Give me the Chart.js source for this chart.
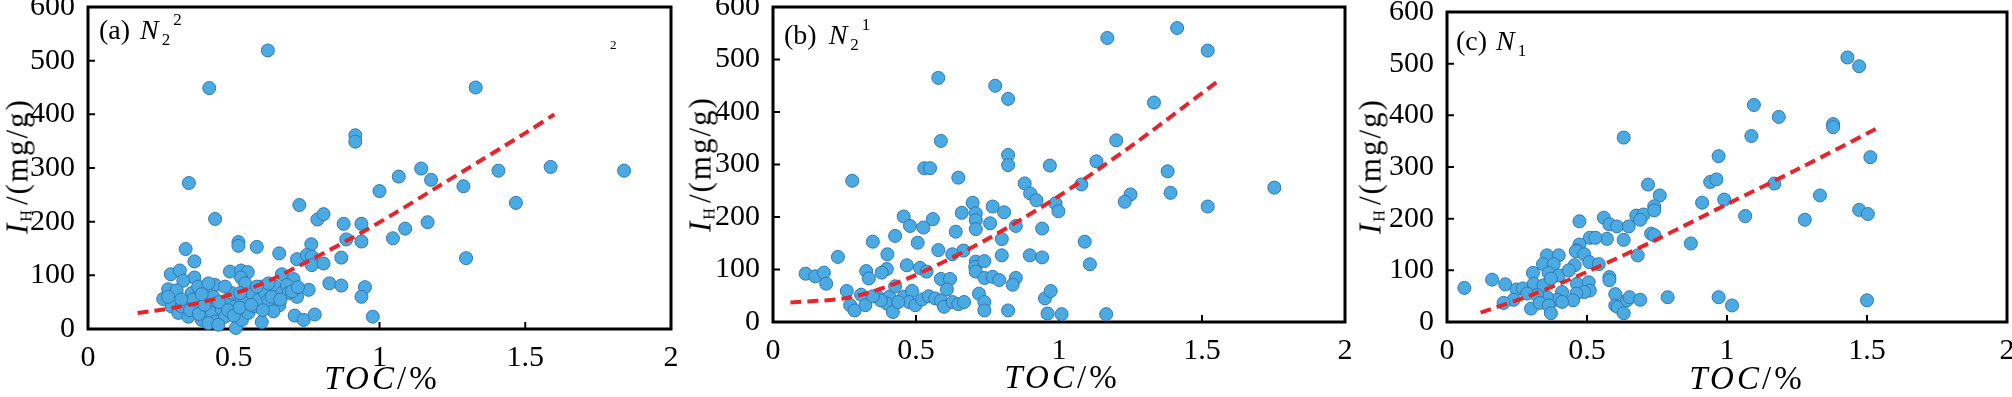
<!DOCTYPE html>
<html>
<head>
<meta charset="utf-8">
<script src="https://cdn.jsdelivr.net/npm/chart.js@4.4.0/dist/chart.umd.min.js"></script>
<style>
  body { margin: 0; background: #fff; }
  #fig { position: relative; width: 2012px; height: 397px; overflow: hidden;
         font-family: "Liberation Serif", "Times New Roman", serif; color: #000; }
  canvas { position: absolute; }
  .lab { position: absolute; font-size: 28px; line-height: 1; white-space: nowrap; }
  .lab i { font-size: 28px; }
  .sb, .sp { font-size: 17px; position: relative; }
  .ytitle { position: absolute; font-size: 31px; line-height: 1; white-space: nowrap;
            letter-spacing: 2px; transform: translate(-50%, -50%) rotate(-90deg); }
  .ytitle .h { font-size: 16px; position: relative; top: 4px; margin-right: 3px; }
  .xtitle { position: absolute; font-size: 33px; line-height: 1; white-space: nowrap;
            letter-spacing: 3px; transform: translateX(-50%); }
</style>
</head>
<body>
<div id="fig">
  <canvas id="cA"></canvas>
  <canvas id="cB"></canvas>
  <canvas id="cC"></canvas>

  <div class="lab" style="left:99px;top:16px">(a)<i style="margin-left:10px">N</i><span class="sb" style="top:6px;margin-left:3px">2</span><span class="sp" style="top:-14px;margin-left:3px">2</span></div>
  <div class="lab" style="left:610px;top:38px;font-size:13px">2</div>
  <div class="lab" style="left:784px;top:21px">(b)<i style="margin-left:12px">N</i><span class="sb" style="top:6px;margin-left:3px">2</span><span class="sp" style="top:-14px;margin-left:3px">1</span></div>
  <div class="lab" style="left:1456px;top:27px">(c)<i style="margin-left:9px">N</i><span class="sb" style="top:6px;margin-left:3px">1</span></div>

  <div class="ytitle" style="left:17px;top:166px"><i>I</i><span class="h">H</span>/(mg/g)</div>
  <div class="ytitle" style="left:700px;top:164px"><i>I</i><span class="h">H</span>/(mg/g)</div>
  <div class="ytitle" style="left:1370px;top:166px"><i>I</i><span class="h">H</span>/(mg/g)</div>

  <div class="xtitle" style="left:382px;top:362px"><i>TOC</i>/%</div>
  <div class="xtitle" style="left:1062px;top:361px"><i>TOC</i>/%</div>
  <div class="xtitle" style="left:1747px;top:362px"><i>TOC</i>/%</div>
</div>

<script>
// tick values shared by the three panels
const tocTicks = [0, 0.5, 1, 1.5, 2];
const ihTicks = [0, 100, 200, 300, 400, 500, 600];

// (a) N2^2 : [TOC %, IH mg/g]
const pointsA = [
  [0.617,519],[0.416,449],[1.33,450],[0.917,361],[0.917,349],[0.346,272],[1.0,257],[0.436,205],
  [0.725,231],[0.787,204],[0.808,214],[0.877,196],[0.938,196],[0.335,149],[0.516,162],[0.516,155],
  [0.579,153],[0.656,141],[0.766,158],[0.886,167],[0.938,163],[0.365,126],[0.717,130],[0.751,138],
  [0.768,135],[0.768,119],[0.808,122],[0.869,133],[0.284,102],[0.315,109],[0.365,96],[0.327,90],
  [0.487,107],[0.525,109],[0.548,106],[0.525,96],[0.665,102],[0.705,93],[0.828,85],[0.869,81],
  [0.95,78],[0.938,60],[0.977,23],[0.258,56],[0.275,74],[0.304,72],[0.436,82],[0.396,76],
  [0.757,73],[0.709,25],[0.74,17],[0.778,27],[0.596,13],[0.507,2],[0.656,44],[0.717,60],
  [1.066,284],[1.143,299],[1.177,278],[1.288,266],[1.408,295],[1.587,302],[1.839,295],[1.468,235],
  [1.165,199],[1.088,187],[1.046,169],[1.297,132],
  [0.287,42],[0.31,30],[0.344,48],[0.356,67],[0.378,60],[0.401,54],[0.413,42],[0.424,30],
  [0.436,14],[0.459,36],[0.47,23],[0.482,48],[0.493,67],[0.505,42],[0.528,54],[0.528,17],
  [0.55,30],[0.562,67],[0.573,42],[0.585,54],[0.596,79],[0.608,67],[0.619,54],[0.636,33],
  [0.642,79],[0.665,67],[0.682,82],[0.688,67],[0.344,23],[0.367,36],[0.39,17],[0.413,11],
  [0.447,8],[0.321,42],[0.275,60],[0.378,79],[0.413,85],[0.539,85],[0.47,79],[0.619,85],
  [0.522,67],[0.579,79],[0.35,35],[0.38,28],[0.4,45],[0.43,60],[0.45,50],[0.48,35],
  [0.5,25],[0.52,40],[0.56,45],[0.6,35],[0.63,60],[0.66,55],[0.7,70],[0.72,78],
  [0.36,55],[0.39,65],[0.32,55]
];
const fitA = [[0.17,30],[0.3,40],[0.45,58],[0.6,85],[0.75,125],[0.9,168],[1.05,215],[1.2,265],[1.35,315],[1.5,365],[1.6,400]];

// (b) N2^1
const pointsB = [
  [1.413,560],[1.169,541],[1.52,517],[0.578,465],[0.777,450],[0.822,425],[1.332,418],[0.587,345],
  [1.2,346],[0.822,318],[0.822,299],[0.968,298],[0.529,293],[0.549,293],[1.131,306],[1.38,287],
  [0.277,269],[0.648,275],[0.88,264],[1.078,262],[0.899,245],[0.921,232],[1.39,246],[1.25,243],
  [1.23,229],[1.52,220],[1.753,256],[0.698,227],[0.709,207],[0.709,194],[0.709,177],[0.768,220],
  [0.808,209],[0.759,188],[0.988,226],[0.998,211],[0.457,201],[0.479,183],[0.526,180],[0.559,196],
  [0.66,208],[0.639,172],[0.849,183],[0.941,178],[0.427,164],[0.349,153],[0.506,151],[0.8,158],
  [1.09,153],[0.578,137],[0.666,136],[0.627,129],[0.8,127],[0.227,124],[0.4,129],[0.898,127],
  [0.941,123],[1.108,110],[0.468,108],[0.514,103],[0.537,96],[0.398,101],[0.326,97],[0.335,83],
  [0.38,94],[0.114,92],[0.148,87],[0.178,94],[0.186,73],[0.587,82],[0.619,82],[0.709,115],
  [0.707,105],[0.709,96],[0.739,116],[0.739,84],[0.768,86],[0.791,80],[0.849,84],[0.838,71],
  [0.258,59],[0.308,52],[0.323,32],[0.27,32],[0.285,22],[0.366,48],[0.407,48],[0.399,35],
  [0.419,19],[0.427,68],[0.457,48],[0.486,59],[0.476,38],[0.498,32],[0.521,43],[0.544,49],
  [0.567,45],[0.587,41],[0.598,29],[0.608,62],[0.628,38],[0.648,34],[0.668,38],[0.72,54],
  [0.739,38],[0.739,22],[0.822,22],[0.96,16],[1.009,15],[1.165,15],[0.951,45],[0.971,59],
  [0.438,38],[0.377,41],[0.349,49]
];
const fitB = [[0.061,37],[0.25,45],[0.36,60],[0.48,85],[0.61,118],[0.74,155],[0.87,196],[1.0,240],[1.13,288],[1.27,342],[1.42,403],[1.566,463]];

// (c) N1
const pointsC = [
  [0.631,357],[0.97,321],[0.94,271],[0.962,276],[0.718,266],[0.76,245],[0.911,231],[0.99,237],
  [1.065,205],[0.473,195],[0.56,202],[0.58,189],[0.607,185],[0.649,185],[0.676,206],[0.702,208],
  [0.69,198],[0.74,224],[0.74,216],[0.631,159],[0.571,161],[0.51,163],[0.53,163],[0.729,171],
  [0.74,168],[0.871,152],[0.473,150],[0.464,139],[0.46,137],[0.49,131],[0.681,129],[0.508,116],
  [0.542,112],[0.357,129],[0.399,129],[0.343,112],[0.381,112],[0.456,110],[0.307,95],[0.363,95],
  [0.399,90],[0.435,100],[0.58,87],[0.58,81],[0.161,82],[0.062,66],[0.208,73],[0.248,63],
  [0.271,65],[0.31,74],[0.345,71],[0.371,84],[0.411,58],[0.464,74],[0.506,77],[0.51,61],
  [0.49,58],[0.462,55],[0.45,42],[0.393,43],[0.357,48],[0.321,52],[0.286,55],[0.238,43],
  [0.202,37],[0.3,26],[0.331,37],[0.363,32],[0.371,17],[0.411,39],[0.601,54],[0.601,32],
  [0.61,29],[0.631,17],[0.643,42],[0.652,48],[0.69,43],[0.788,48],[0.97,48],[1.018,32],
  [1.43,512],[1.472,495],[1.096,420],[1.185,397],[1.379,383],[1.379,377],[1.087,360],[1.512,319],
  [1.169,268],[1.332,245],[1.278,198],[1.472,217],[1.503,209],[1.5,42]
];
const fitC = [[0.12,18],[0.3,52],[0.5,97],[0.75,160],[1.0,228],[1.25,295],[1.54,376]];

const tickFont = { family: '"Liberation Serif", serif', size: 30 };

const framePlugin = {
  id: 'frame',
  beforeDatasetsDraw(chart) {
    const { ctx, chartArea: a, scales: { x, y } } = chart;
    ctx.save();
    ctx.strokeStyle = '#000';
    ctx.lineWidth = 3;
    ctx.strokeRect(a.left, a.top, a.right - a.left, a.bottom - a.top);
    ctx.lineWidth = 2;
    ctx.beginPath();
    x.ticks.forEach(t => {
      const px = x.getPixelForValue(t.value);
      ctx.moveTo(px, a.bottom); ctx.lineTo(px, a.bottom - 7);
    });
    y.ticks.forEach(t => {
      const py = y.getPixelForValue(t.value);
      ctx.moveTo(a.left, py); ctx.lineTo(a.left + 7, py);
    });
    ctx.stroke();
    ctx.restore();
  }
};

function makePanel(id, points, fit, box) {
  const cv = document.getElementById(id);
  const w = box.R - box.L + 100, h = box.B + 100;
  cv.width = w; cv.height = h;
  cv.style.left = (box.L - 80) + 'px';
  cv.style.top = '-40px';

  return new Chart(cv, {
    type: 'scatter',
    data: {
      datasets: [{
        data: fit.map(p => ({ x: p[0], y: p[1] })),
        showLine: true,
        borderColor: '#e3262c',
        borderWidth: 4,
        borderDash: [11, 6],
        pointRadius: 0,
        tension: 0.3,
        order: 0
      }, {
        data: points.map(p => ({ x: p[0], y: p[1] })),
        backgroundColor: '#4caae2',
        borderColor: '#2f78b4',
        borderWidth: 1,
        pointRadius: 6.5,
        clip: false,
        order: 1
      }]
    },
    options: {
      responsive: false,
      animation: false,
      devicePixelRatio: 1,
      layout: { padding: { left: 10, top: box.T + 40, right: 20, bottom: 20 } },
      plugins: { legend: { display: false }, tooltip: { enabled: false } },
      scales: {
        x: {
          type: 'linear', min: 0, max: 2,
          grid: { display: false },
          border: { display: false },
          ticks: { font: tickFont, color: '#000', padding: 3, maxRotation: 0, autoSkip: false,
                   callback: v => String(v) },
          afterBuildTicks: s => { s.ticks = tocTicks.map(v => ({ value: v })); },
          afterFit: s => { s.height = 40; }
        },
        y: {
          type: 'linear', min: 0, max: 600,
          grid: { display: false },
          border: { display: false },
          ticks: { font: tickFont, color: '#000', padding: 5, autoSkip: false,
                   callback: v => String(v) },
          afterBuildTicks: s => { s.ticks = ihTicks.map(v => ({ value: v })); },
          afterFit: s => { s.width = 70; }
        }
      }
    },
    plugins: [framePlugin]
  });
}

makePanel('cA', pointsA, fitA, { L: 88, T: 7, R: 671, B: 329 });
makePanel('cB', pointsB, fitB, { L: 773, T: 7, R: 1345, B: 322 });
makePanel('cC', pointsC, fitC, { L: 1447, T: 12, R: 2007, B: 322 });
</script>
</body>
</html>
